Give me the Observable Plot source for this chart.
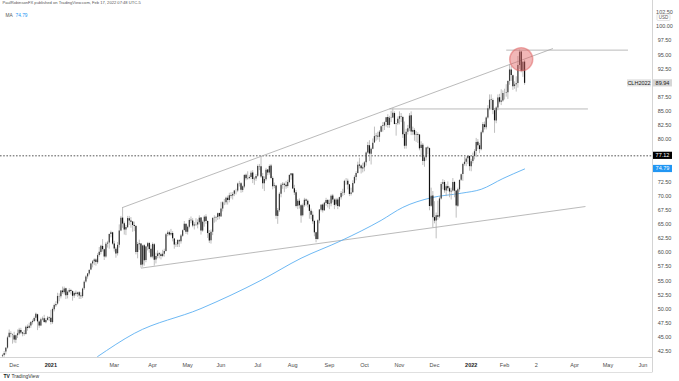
<!DOCTYPE html>
<html><head><meta charset="utf-8">
<script src="https://cdn.jsdelivr.net/npm/d3@7"></script>
<script src="https://cdn.jsdelivr.net/npm/@observablehq/plot@0.6"></script>
<style>html,body{margin:0;padding:0;background:#fff;} #chart{position:relative;width:679px;height:381px;overflow:hidden;}</style>
</head><body><div id="chart"></div>
<script>
// ---- trading calendar (first bar 2020-11-19) ----
const firstDay = "2020-11-19";
const holidays = ["2020-11-26","2020-12-25","2021-01-01","2021-01-18","2021-02-15","2021-04-02","2021-05-31","2021-07-05","2021-09-06","2021-11-25","2021-12-24","2022-01-17","2022-02-21","2022-04-15","2022-05-30"];

// ---- daily OHLC (WTI crude, CLH2022 continuous) ----
const opens = [
41.6,41.8,42.4,43.1,45.0,45.6,45.4,
45.3,44.5,45.3,45.6,46.2,45.8,45.6,45.5,46.8,46.6,47.0,47.6,47.8,48.4,49.0,47.7,47.0,48.1,48.3,47.6,48.0,48.4,
48.4,47.6,49.9,50.6,50.9,52.2,52.2,53.2,52.9,53.6,52.4,53.0,53.3,53.1,52.3,52.8,52.6,52.9,52.3,
52.2,53.6,54.8,55.7,56.2,56.9,58.0,58.4,58.7,58.2,59.5,60.0,61.1,60.5,59.2,61.5,61.7,63.2,63.5,
61.5,60.6,59.8,61.3,63.8,66.1,65.1,64.0,64.4,66.0,65.6,65.4,64.8,64.6,60.0,61.4,61.5,57.8,61.2,58.6,61.0,61.6,60.6,
59.2,61.4,58.7,59.3,59.8,59.6,59.3,59.7,60.2,63.2,63.5,63.1,63.4,62.4,61.4,61.4,62.1,61.9,62.9,63.9,65.0,
63.6,64.5,65.7,65.6,64.7,64.9,64.9,65.3,66.1,63.8,65.4,66.3,65.5,63.4,62.1,63.6,66.1,66.1,66.2,66.9,
66.3,67.7,68.8,68.8,69.6,69.2,70.1,70.0,70.3,70.9,70.9,72.1,72.2,71.0,71.6,73.7,73.1,73.1,73.3,74.1,72.9,73.0,
73.5,75.2,75.2,73.4,72.2,72.9,74.6,74.1,75.3,73.1,71.7,71.8,66.4,67.4,70.3,71.9,72.1,71.9,71.7,72.4,73.6,
73.9,71.3,70.6,68.2,69.1,68.3,66.5,68.3,69.3,69.1,68.4,67.3,66.6,65.5,63.5,62.3,65.6,67.5,68.4,67.4,68.7,69.2,
68.5,68.6,70.0,69.3,68.4,69.3,68.1,69.7,70.5,70.5,72.6,72.6,72.0,70.3,70.6,72.2,73.3,74.0,75.5,75.3,74.8,
75.0,75.9,77.6,78.9,77.4,78.3,79.4,80.5,80.6,80.4,81.3,82.3,82.4,83.0,83.9,82.5,83.8,83.8,84.6,82.7,82.8,
83.6,84.0,83.9,80.9,78.8,81.3,81.9,84.2,81.3,81.6,80.8,80.9,80.8,78.4,79.0,76.1,76.8,78.5,78.4,68.2,70.0,
66.2,65.6,66.5,66.3,69.5,72.1,72.4,70.9,71.7,71.3,70.7,70.9,72.4,70.9,68.2,71.1,72.8,73.8,75.6,76.0,76.6,77.0,
75.2,76.1,77.0,77.9,79.5,78.9,78.2,81.2,82.6,82.1,83.8,85.4,87.0,86.9,85.1,83.3,85.6,87.4,86.6,86.8,
88.2,88.2,88.3,90.3,92.3,91.3,89.4,89.7,89.9,93.1,95.5,92.1,93.7];
const highs = [
42.0,42.5,43.2,45.2,46.3,46.0,45.6,
45.9,45.4,46.3,46.6,46.6,45.9,46.2,47.0,47.2,47.5,47.8,48.1,48.6,49.3,49.1,47.9,48.4,48.6,48.9,48.3,48.7,48.6,
49.8,50.2,50.9,51.3,52.8,52.7,53.3,53.9,53.9,53.7,53.2,53.6,53.5,53.2,53.0,53.2,53.0,53.1,52.9,
53.7,55.0,55.9,56.3,57.0,58.1,58.6,58.9,58.9,59.8,60.9,61.3,62.3,60.6,61.8,62.0,63.3,63.8,63.6,
62.0,60.9,61.8,64.9,66.4,67.98,65.4,64.8,66.4,66.4,66.2,65.5,65.4,64.8,61.8,62.2,61.6,61.3,61.4,61.1,61.8,61.8,61.3,
61.7,61.6,59.9,60.3,60.0,59.9,60.4,60.6,63.4,63.8,63.8,64.1,63.7,62.5,61.8,62.3,62.3,63.2,64.0,65.5,65.0,
64.7,66.0,66.3,66.0,65.3,66.0,65.8,66.5,66.2,65.6,66.5,66.7,65.6,63.9,64.0,66.2,66.5,66.4,67.0,67.0,
68.9,69.0,69.4,69.8,70.0,70.5,70.6,70.6,71.0,71.2,72.3,72.6,72.4,71.8,73.8,73.9,74.3,73.6,74.4,74.5,73.3,73.8,
75.5,75.6,76.98,74.0,73.4,74.9,74.7,75.5,75.6,73.4,72.3,71.9,67.8,70.6,72.2,72.4,72.3,72.6,72.8,73.8,74.0,
74.0,71.9,71.0,69.4,69.5,68.5,68.6,69.6,69.5,69.3,68.5,67.7,67.2,65.7,63.6,65.8,67.6,68.5,68.6,68.9,69.6,69.4,
69.3,70.2,70.3,69.5,69.6,69.6,69.8,70.8,71.2,72.8,73.1,73.0,72.0,71.4,72.7,73.6,74.3,76.0,76.7,75.5,75.8,
76.1,77.8,79.5,79.8,78.5,80.1,82.2,81.1,81.3,81.6,82.4,83.0,83.1,83.9,84.4,84.1,85.0,85.41,84.9,82.8,84.0,
84.9,84.6,84.1,83.1,81.8,82.5,84.6,84.9,82.2,81.9,81.4,81.2,80.9,79.6,79.3,77.1,78.6,78.8,78.5,71.4,70.8,
69.0,67.0,69.1,69.8,72.4,72.9,72.7,72.0,72.5,71.6,71.4,73.1,72.6,70.9,71.4,72.9,73.9,75.8,76.9,76.9,77.1,77.1,
76.5,77.6,78.2,80.2,80.0,79.3,81.5,83.0,83.1,84.0,86.0,87.9,87.9,87.2,85.5,85.8,87.9,88.0,88.8,88.6,
88.9,89.7,90.4,93.2,93.0,91.4,90.2,91.1,94.7,95.82,95.6,93.8,94.0];
const lows = [
41.45,41.5,41.9,42.9,44.8,44.9,43.8,
44.0,43.9,44.8,45.3,45.5,45.1,45.2,45.4,46.1,46.5,46.6,47.2,47.6,47.9,46.2,46.6,46.9,47.9,47.5,47.4,47.9,47.8,
47.2,47.3,49.5,50.3,50.7,51.3,51.8,52.6,52.5,51.7,51.8,52.8,52.5,51.4,51.9,52.3,52.1,51.7,51.7,
51.9,53.3,54.6,55.3,55.9,56.8,57.3,57.7,57.6,57.9,59.2,59.6,60.1,58.6,59.0,60.8,60.6,62.6,61.3,
60.1,59.0,59.4,60.8,63.7,64.3,63.1,63.0,64.3,64.8,64.3,63.6,63.7,59.6,58.9,60.4,57.25,57.4,57.6,58.2,60.3,59.9,58.9,
58.9,57.6,58.0,58.9,58.9,58.7,59.1,59.2,60.1,62.8,62.9,62.9,61.9,60.6,60.9,60.9,60.9,61.5,62.7,63.8,63.2,
63.1,64.2,65.1,64.4,64.0,64.6,64.2,64.9,63.1,63.6,64.5,65.0,62.5,61.6,61.5,63.0,65.2,65.4,65.7,65.8,
66.3,67.2,68.3,68.4,68.4,68.8,69.5,69.3,69.9,70.2,70.6,71.6,70.5,70.6,71.3,72.7,72.8,72.9,72.9,72.2,71.9,72.6,
73.3,74.5,73.1,71.2,70.8,72.6,73.6,73.7,72.9,71.1,71.3,65.9,65.0,67.1,69.7,71.2,70.6,71.2,71.4,72.2,72.8,
71.2,70.1,67.9,67.6,67.7,65.2,66.3,68.0,68.2,67.9,65.9,65.8,65.0,62.8,61.74,62.2,65.1,67.2,67.0,67.3,68.2,67.9,
67.6,68.1,68.8,67.6,68.1,67.6,68.0,69.3,69.9,70.1,71.9,71.1,69.9,70.0,70.5,72.1,72.7,73.9,74.8,73.9,74.1,
74.3,75.3,77.4,76.1,75.5,78.2,79.3,79.7,79.9,79.5,81.2,81.3,81.6,82.2,82.0,82.0,83.0,83.7,82.6,80.6,82.5,
82.6,83.0,80.2,78.3,78.3,80.8,81.4,80.7,80.7,79.7,79.5,79.3,78.0,76.8,75.4,75.1,76.2,77.3,67.4,68.0,64.4,
65.1,62.43,65.7,66.0,69.3,71.1,70.5,69.9,70.8,69.7,69.3,70.7,69.7,66.1,68.0,70.7,72.6,72.6,75.3,75.2,75.6,74.4,
74.3,75.7,76.4,76.8,78.2,77.5,78.0,81.0,81.7,81.7,83.6,85.1,85.4,84.4,81.1,82.8,85.1,86.3,86.0,86.6,
87.0,87.5,87.1,89.6,90.3,88.7,88.9,88.4,89.1,92.4,91.8,91.0,89.6];
const closes = [
41.74,42.15,43.06,44.91,45.71,45.53,45.34,
44.55,45.28,45.64,46.26,45.76,45.60,45.52,46.78,46.57,46.99,47.62,47.82,48.36,49.10,47.74,47.02,48.12,48.23,47.62,48.00,48.40,48.52,
47.62,49.93,50.63,50.83,52.24,52.25,53.21,52.91,53.57,52.36,52.98,53.31,53.13,52.27,52.77,52.61,52.85,52.34,52.20,
53.55,54.76,55.69,56.23,56.85,57.97,58.36,58.68,58.24,59.47,60.05,61.14,60.52,59.24,61.49,61.67,63.22,63.53,61.50,
60.64,59.75,61.28,63.83,66.09,65.05,64.01,64.44,66.02,65.61,65.39,64.80,64.60,60.00,61.42,61.55,57.76,61.18,58.56,60.97,61.56,60.55,59.16,
61.45,58.65,59.33,59.77,59.60,59.32,59.70,60.18,63.15,63.46,63.13,63.38,62.44,61.35,61.43,62.14,61.91,62.94,63.86,65.01,63.58,
64.49,65.69,65.63,64.71,64.90,64.92,65.28,66.08,63.82,65.37,66.27,65.49,63.36,62.05,63.58,66.05,66.07,66.21,66.85,66.32,
67.72,68.83,68.81,69.62,69.23,70.05,69.96,70.29,70.91,70.88,72.12,72.15,71.04,71.64,73.66,73.06,73.08,73.30,74.05,72.91,72.98,73.47,
75.23,75.16,73.37,72.20,72.94,74.56,74.10,75.25,73.13,71.65,71.81,66.42,67.42,70.30,71.91,72.07,71.91,71.65,72.39,73.62,73.95,
71.26,70.56,68.15,69.09,68.28,66.48,68.29,69.25,69.09,68.44,67.29,66.59,65.46,63.50,62.32,65.64,67.54,68.36,67.42,68.74,69.21,68.50,
68.59,69.99,69.29,68.35,69.30,68.14,69.72,70.45,70.46,72.61,72.61,71.97,70.29,70.56,72.23,73.30,73.98,75.45,75.29,74.83,75.03,
75.88,77.62,78.93,77.43,78.30,79.35,80.52,80.64,80.44,81.31,82.28,82.44,82.96,83.87,82.50,83.76,83.76,84.65,82.66,82.81,83.57,
84.05,83.91,80.86,78.81,81.27,81.93,84.15,81.34,81.59,80.79,80.88,80.76,78.36,79.01,76.10,76.75,78.50,78.39,68.15,69.95,66.18,
65.57,66.50,66.26,69.49,72.05,72.36,70.94,71.67,71.29,70.73,70.87,72.38,70.86,68.23,71.12,72.76,73.79,75.57,75.98,76.56,76.99,75.21,
76.08,76.99,77.85,79.46,78.90,78.23,81.22,82.64,82.12,83.82,85.43,86.96,86.90,85.14,83.31,85.60,87.35,86.61,86.82,88.15,
88.20,88.26,90.27,92.31,91.32,89.36,89.66,89.88,93.10,95.46,92.07,93.66,89.94];

// ---- 200-day moving average, read at points (bar index, value) ----
const maIndex = [57, 79, 119, 155, 179, 203, 227, 240, 257, 275, 287, 300, 313];
const maValue = [41.6, 45.7, 50.1, 55.1, 59.0, 62.1, 65.7, 68.0, 69.7, 70.5, 71.2, 73.1, 74.79];

// ---- drawn annotations (bar index, price) ----
const segStart = [[72, 67.98], [83, 57.25], [232, 85.41], [302, 95.82]];
const segEnd   = [[330, 96.1], [349.5, 68.15], [351, 85.41], [375, 95.82]];
const levelPrice = 77.12;
const circlePoint = [311, 94.2];

// ---- axis ticks (labels hidden by price tags are left out, as in the reference) ----
const yTicks = [42.5,45,47.5,50,52.5,55,57.5,60,62.5,65,67.5,70,72.5,80,82.5,85,87.5,92.5,95,97.5,100,102.5];
const tickDates = ["2020-12-01","2021-01-04","2021-03-01","2021-04-01","2021-05-03","2021-06-01","2021-07-01","2021-08-02","2021-09-01","2021-10-01","2021-11-01","2021-12-01","2022-01-03","2022-02-01","2022-03-01","2022-04-01","2022-05-02","2022-06-01"];
const tickLabels = ["Dec","2021","Mar","Apr","May","Jun","Jul","Aug","Sep","Oct","Nov","Dec","2022","Feb","2","Apr","May","Jun"];

const headerText = "PaulRobinsonFX published on TradingView.com, Feb 17, 2022 07:48 UTC-5";
const maLabel = "MA", maLast = "74.79";
const symbolName = "CLH2022", lastPrice = 89.94, maPrice = 74.79;

// ---- build ----
const cal = [];
{
  const hol = new Set(holidays);
  const [y0, m0, d0] = firstDay.split("-").map(Number);
  let t = Date.UTC(y0, m0 - 1, d0);
  const end = Date.UTC(2022, 6, 1);
  while (t < end) {
    const d = new Date(t), wd = d.getUTCDay(), s = d.toISOString().slice(0, 10);
    if (wd !== 0 && wd !== 6 && !hol.has(s)) cal.push(s);
    t += 86400000;
  }
}
const bars = closes.map((c, i) => ({i, date: cal[i], o: opens[i], h: highs[i], l: lows[i], c}));
const ma = maIndex.map((i, k) => ({i, v: maValue[k]}));
const segments = segStart.map((s, k) => ({i1: s[0], v1: s[1], i2: segEnd[k][0], v2: segEnd[k][1]}));
const xTicks = tickDates.map((d, k) => ({i: cal.indexOf(d), label: tickLabels[k], year: /^\d{4}$/.test(tickLabels[k])}));

const X0 = -1.2, X1 = 389.7, Y0 = 41.44, Y1 = 104.6;
const font = "'Liberation Sans', Arial, sans-serif";

const chart = Plot.plot({
  width: 679, height: 381,
  marginTop: 0, marginRight: 27, marginBottom: 24, marginLeft: 0,
  x: {type: "linear", domain: [X0, X1], axis: null},
  y: {type: "linear", domain: [Y0, Y1], axis: null},
  style: {fontFamily: font, background: "#ffffff", overflow: "visible"},
  marks: [
    Plot.ruleY([levelPrice], {stroke: "#444", strokeWidth: 0.9, strokeDasharray: "1.6,1.6"}),
    Plot.link(segments, {x1: "i1", y1: "v1", x2: "i2", y2: "v2", stroke: "#a8a8a8", strokeWidth: 0.8}),
    Plot.line(ma, {x: "i", y: "v", stroke: "#5cb0f2", strokeWidth: 0.9, curve: "monotone-x", clip: true}),
    Plot.ruleX(bars, {x: "i", y1: "l", y2: "h", stroke: "#a3a3a3", strokeWidth: 0.7, clip: true}),
    Plot.ruleX(bars.filter(b => b.c >= b.o), {x: "i", y1: "o", y2: "c", stroke: "#3c3c3c", strokeWidth: 1.2, clip: true}),
    Plot.ruleX(bars.filter(b => b.c < b.o), {x: "i", y1: "o", y2: "c", stroke: "#111111", strokeWidth: 1.2, clip: true}),
    Plot.dot([{i: circlePoint[0], v: circlePoint[1]}], {x: "i", y: "v", r: 11.5, fill: "#e06060", fillOpacity: 0.45, stroke: "#e06060", strokeOpacity: 0.5}),
    Plot.ruleX([X1], {stroke: "#d4d4d4", strokeWidth: 1}),
    Plot.ruleY([Y0], {stroke: "#d4d4d4", strokeWidth: 1}),
    Plot.text(yTicks, {x: () => X1, y: d => d, dx: 12, text: d => d.toFixed(2), fontSize: 5.5, fill: "#4a4a4a", textAnchor: "middle"}),
    Plot.text(xTicks.filter(t => !t.year), {x: "i", y: () => Y0, dy: 8, text: "label", fontSize: 5.5, fill: "#4a4a4a"}),
    Plot.text(xTicks.filter(t => t.year), {x: "i", y: () => Y0, dy: 8, text: "label", fontSize: 5.5, fill: "#222", fontWeight: "bold"}),
    Plot.text([headerText], {frameAnchor: "top-left", dx: 2, dy: 1, fontSize: 4.1, fill: "#555"}),
    Plot.text([maLabel], {frameAnchor: "top-left", dx: 5, dy: 13, fontSize: 4.8, fill: "#555"}),
    Plot.text([maLast], {frameAnchor: "top-left", dx: 15, dy: 13, fontSize: 4.8, fill: "#2196f3"}),
    Plot.text(["TV"], {frameAnchor: "bottom-left", dx: 3, dy: 20, fontSize: 5, fill: "#131722", fontWeight: "bold"}),
    Plot.text(["TradingView"], {frameAnchor: "bottom-left", dx: 11, dy: 20, fontSize: 5, fill: "#333"})
  ]
});

// price tags on the right axis, placed through the Plot y scale
const sy = chart.scale("y");
const svg = d3.select(chart);
svg.append("line").attr("x1", 652.5).attr("x2", 652.5).attr("y1", 357).attr("y2", 372).attr("stroke", "#d4d4d4");
svg.append("line").attr("x1", 0).attr("x2", 652.5).attr("y1", 372.5).attr("y2", 372.5).attr("stroke", "#e0e0e0");
function tag(v, txt, bg, fg, x, w) {
  const yy = sy.apply(v);
  svg.append("rect").attr("x", x).attr("y", yy - 3.6).attr("width", w).attr("height", 7.2).attr("fill", bg);
  svg.append("text").attr("x", x + w / 2).attr("y", yy).attr("dy", "0.35em").attr("text-anchor", "middle")
    .attr("font-size", 5.5).attr("font-family", font).attr("fill", fg).text(txt);
}
tag(levelPrice, levelPrice.toFixed(2), "#000000", "#ffffff", 653, 19);
tag(maPrice, maPrice.toFixed(2), "#2196f3", "#ffffff", 653, 19);
tag(lastPrice, lastPrice.toFixed(2), "#d6d6d6", "#222222", 653, 19);
tag(lastPrice, symbolName, "#e3e3e3", "#222222", 627, 24);
svg.append("rect").attr("x", 657).attr("y", 14).attr("width", 13).attr("height", 6.5).attr("fill", "#fff").attr("stroke", "#cfcfcf").attr("stroke-width", 0.6).attr("rx", 1);
svg.append("text").attr("x", 663.5).attr("y", 17.3).attr("dy", "0.35em").attr("text-anchor", "middle").attr("font-size", 4.5).attr("font-family", font).attr("fill", "#555").text("USD");

document.getElementById("chart").appendChild(chart);
</script></body></html>
